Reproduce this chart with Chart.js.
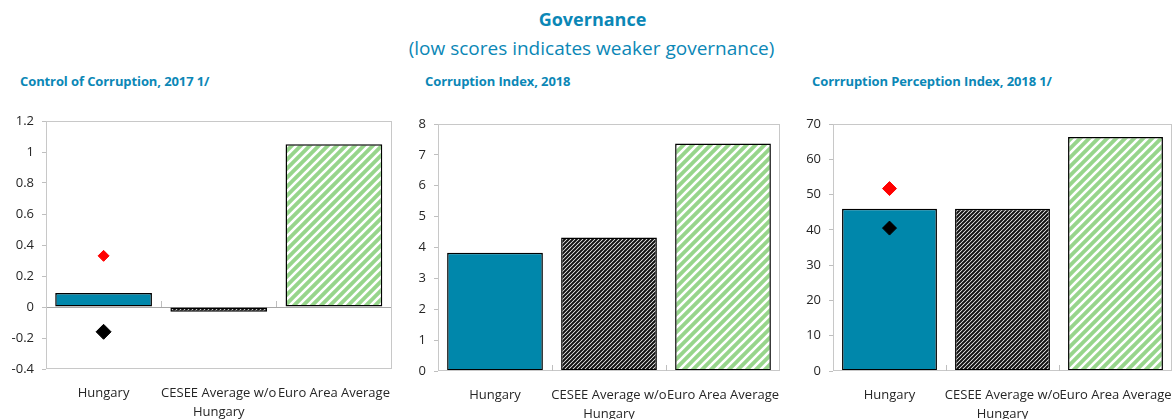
<!DOCTYPE html>
<html>
<head>
<meta charset="utf-8">
<script src="https://cdn.jsdelivr.net/npm/chart.js@4.4.1/dist/chart.umd.min.js"></script>
<style>
  html, body { margin: 0; padding: 0; background: #fff; overflow: hidden; width: 1173px; height: 419px; }
  body { position: relative; font-family: "Open Sans", sans-serif; }
  .t { position: absolute; color: #0b87b6; white-space: nowrap; }
  #main { width: 1173px; top: 7px; text-align: center; font-size: 18px; font-weight: bold; left: 6px; }
  #sub { left: 5px; width: 1173px; top: 35px; text-align: center; font-size: 19px; }
  .pt { font-size: 13px; font-weight: bold; top: 72px; letter-spacing: -0.1px; }
  .c { position: absolute; top: 100px; }
</style>
</head>
<body>
<div class="t" id="main">Governance</div>
<div class="t" id="sub">(low scores indicates weaker governance)</div>
<div class="t pt" style="left:20px">Control of Corruption, 2017 1/</div>
<div class="t pt" style="left:425px">Corruption Index, 2018</div>
<div class="t pt" style="left:812px">Corrruption Perception Index, 2018 1/</div>
<canvas id="c1" class="c" style="left:0px" width="400" height="330"></canvas>
<canvas id="c2" class="c" style="left:400px" width="395" height="330"></canvas>
<canvas id="c3" class="c" style="left:790px" width="390" height="330"></canvas>
<script>
// ---- data ----
const categories = [["Hungary"], ["CESEE Average w/o", "Hungary"], ["Euro Area Average"]];
const controlOfCorruption = [0.09, -0.03, 1.05];
const controlRedMarker = [0.33, null, null];
const controlBlackMarker = [-0.16, null, null];
const corruptionIndex = [3.83, 4.32, 7.37];
const perceptionIndex = [46, 46, 66.3];
const perceptionRedMarker = [51.7, null, null];
const perceptionBlackMarker = [40.5, null, null];

// ---- patterns ----
const tmp = document.createElement('canvas').getContext('2d');
function stripes(bg, fg, size, lw) {
  const c = document.createElement('canvas');
  c.width = size; c.height = size;
  const x = c.getContext('2d');
  x.fillStyle = bg; x.fillRect(0, 0, size, size);
  x.strokeStyle = fg; x.lineWidth = lw; x.lineCap = 'square';
  x.beginPath();
  x.moveTo(-size, size); x.lineTo(size, -size);
  x.moveTo(0, size * 2); x.lineTo(size * 2, 0);
  x.moveTo(0, size); x.lineTo(size, 0);
  x.stroke();
  return tmp.createPattern(c, 'repeat');
}
const hungaryColor = '#0087ab';
const ceseePattern = stripes('#ffffff', '#111111', 4, 2.0);
const euroPattern = stripes('#97d58b', '#ffffff', 9, 2.6);

const boxPlugin = {
  id: 'box',
  afterDatasetsDraw(chart) {
    const {ctx, chartArea: a, scales: {x, y}} = chart;
    ctx.save();
    ctx.strokeStyle = '#c8c8c8'; ctx.lineWidth = 1;
    ctx.strokeRect(Math.round(a.left) + 0.5, Math.round(a.top) + 0.5, Math.round(a.width) - 1, Math.round(a.height) - 1);
    // category boundary ticks at the zero line
    const y0 = Math.min(y.getPixelForValue(0), a.bottom);
    ctx.strokeStyle = '#bfbfbf';
    for (let i = 0; i < x.ticks.length - 1; i++) {
      const bx = Math.round((x.getPixelForValue(i) + x.getPixelForValue(i + 1)) / 2) + 0.5;
      ctx.beginPath(); ctx.moveTo(bx, y0); ctx.lineTo(bx, y0 - 6); ctx.stroke();
    }
    ctx.restore();
  }
};

function makeChart(id, opts) {
  const datasets = [{
    type: 'bar',
    data: opts.values,
    backgroundColor: [hungaryColor, ceseePattern, euroPattern],
    borderColor: '#000',
    borderWidth: 1.5,
    borderSkipped: false,
    barPercentage: 0.84,
    categoryPercentage: 1,
    order: 2
  }];
  (opts.markers || []).forEach(m => datasets.push({
    type: 'line',
    data: m.data,
    showLine: false,
    pointStyle: 'rectRot',
    pointRadius: m.r,
    pointBackgroundColor: m.color,
    pointBorderColor: m.color,
    order: 1
  }));
  return new Chart(document.getElementById(id), {
    data: { labels: categories, datasets },
    options: {
      responsive: false,
      animation: false,
      events: [],
      layout: { padding: opts.padding },
      plugins: { legend: { display: false }, tooltip: { enabled: false } },
      scales: {
        x: {
          grid: { display: false },
          border: { display: false },
          ticks: {
            color: '#262626', autoSkip: false, maxRotation: 0, padding: 7,
            font: { family: 'Open Sans', size: 13, lineHeight: 1.45 }
          },
          afterFit: s => { s.height = opts.xh; s.paddingLeft = 0; s.paddingRight = 0; }
        },
        y: {
          min: opts.min, max: opts.max,
          grid: {
            drawOnChartArea: true,
            color: c => (c.tick && c.tick.value === 0 && opts.min < 0) ? '#a6a6a6' : 'rgba(0,0,0,0)',
            tickColor: '#bfbfbf', tickLength: 4
          },
          border: { display: false },
          ticks: {
            stepSize: opts.step, color: '#262626', padding: 8,
            font: { family: 'Open Sans', size: 13 },
            callback: v => String(Math.round(v * 10) / 10)
          },
          afterFit: s => { s.width = opts.yw; s.paddingTop = 0; s.paddingBottom = 0; }
        }
      }
    },
    plugins: [boxPlugin]
  });
}

makeChart('c1', {
  values: controlOfCorruption, min: -0.4, max: 1.2, step: 0.2,
  markers: [{data: controlRedMarker, color: '#ff0000', r: 5.5}, {data: controlBlackMarker, color: '#000', r: 7.5}],
  padding: {top: 21, right: 8, left: 0, bottom: 0}, yw: 46, xh: 61
});
makeChart('c2', {
  values: corruptionIndex, min: 0, max: 8, step: 1,
  padding: {top: 24, right: 15, left: 0, bottom: 0}, yw: 38, xh: 59
});
makeChart('c3', {
  values: perceptionIndex, min: 0, max: 70, step: 10,
  markers: [{data: perceptionRedMarker, color: '#ff0000', r: 7}, {data: perceptionBlackMarker, color: '#000', r: 7}],
  padding: {top: 24, right: 4, left: 0, bottom: 0}, yw: 43, xh: 59
});
</script>
</body>
</html>
